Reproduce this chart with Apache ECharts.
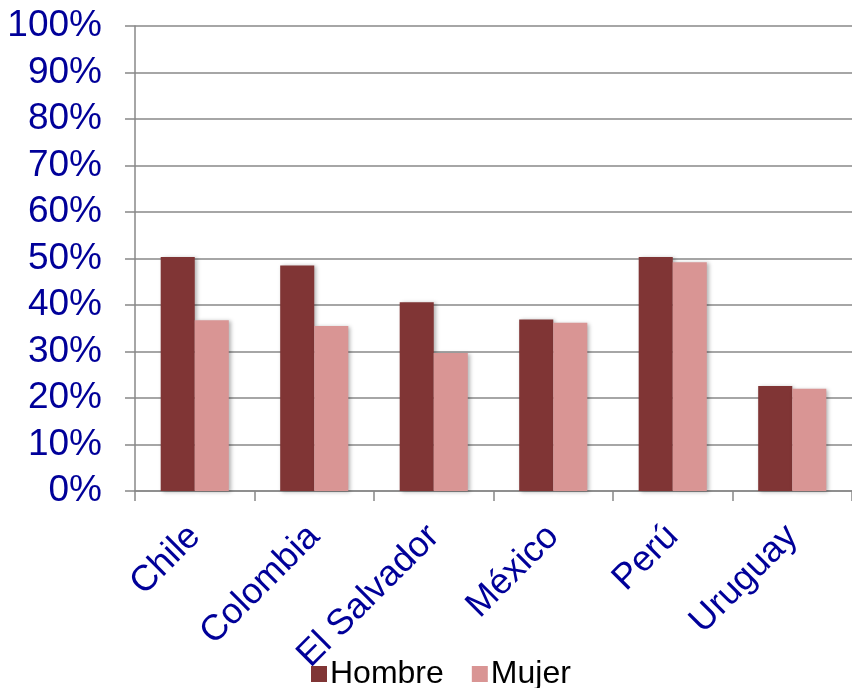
<!DOCTYPE html>
<html><head><meta charset="utf-8">
<script src="https://cdn.jsdelivr.net/npm/echarts@6/dist/echarts.min.js"></script>
<style>html,body{margin:0;padding:0;background:#fff}#c{width:852px;height:688px}</style>
</head><body><div id="c"></div>
<script>
const categories = ['Chile', 'Colombia', 'El Salvador', 'México', 'Perú', 'Uruguay'];
const hombre = [50.3, 48.5, 40.6, 36.9, 50.3, 22.6];
const mujer = [36.7, 35.5, 29.7, 36.2, 49.2, 22.0];
const seriesNames = ['Hombre', 'Mujer'];

const chart = echarts.init(document.getElementById('c'));
const font = 'Liberation Sans, Arial, sans-serif';
chart.setOption({
  animation: false,
  grid: { left: 135, right: 0, top: 26, bottom: 197 },
  legend: {
    left: 306, top: 653,
    itemWidth: 16, itemHeight: 16, itemGap: 28,
    icon: 'rect',
    textStyle: { fontSize: 32, color: '#000', fontFamily: font, padding: [0, 0, 0, -2] },
    data: seriesNames
  },
  xAxis: {
    type: 'category', data: categories,
    axisLine: { lineStyle: { color: '#888', width: 1.5 } },
    axisTick: { show: true, length: 10, lineStyle: { color: '#888', width: 1.5 } },
    axisLabel: { rotate: 45, margin: 40, fontSize: 36, color: '#000099', fontFamily: font, interval: 0 }
  },
  yAxis: {
    type: 'value', min: 0, max: 100, interval: 10,
    axisLine: { show: true, lineStyle: { color: '#888', width: 1.5 } },
    axisTick: { show: true, length: 10, lineStyle: { color: '#888', width: 1.5 } },
    splitLine: { lineStyle: { color: '#888', width: 1.5 } },
    axisLabel: { formatter: '{value}%', fontSize: 37, color: '#000099', fontFamily: font, margin: 33 }
  },
  series: [
    { name: seriesNames[0], type: 'bar', data: hombre, barGap: '0%', barCategoryGap: '43%',
      itemStyle: { color: '#803535', shadowColor: 'rgba(0,0,0,0.3)', shadowBlur: 4, shadowOffsetX: 2, shadowOffsetY: 1 } },
    { name: seriesNames[1], type: 'bar', data: mujer, barGap: '0%', barCategoryGap: '43%',
      itemStyle: { color: '#D99594', shadowColor: 'rgba(0,0,0,0.3)', shadowBlur: 4, shadowOffsetX: 2, shadowOffsetY: 1 } }
  ]
});
</script></body></html>
